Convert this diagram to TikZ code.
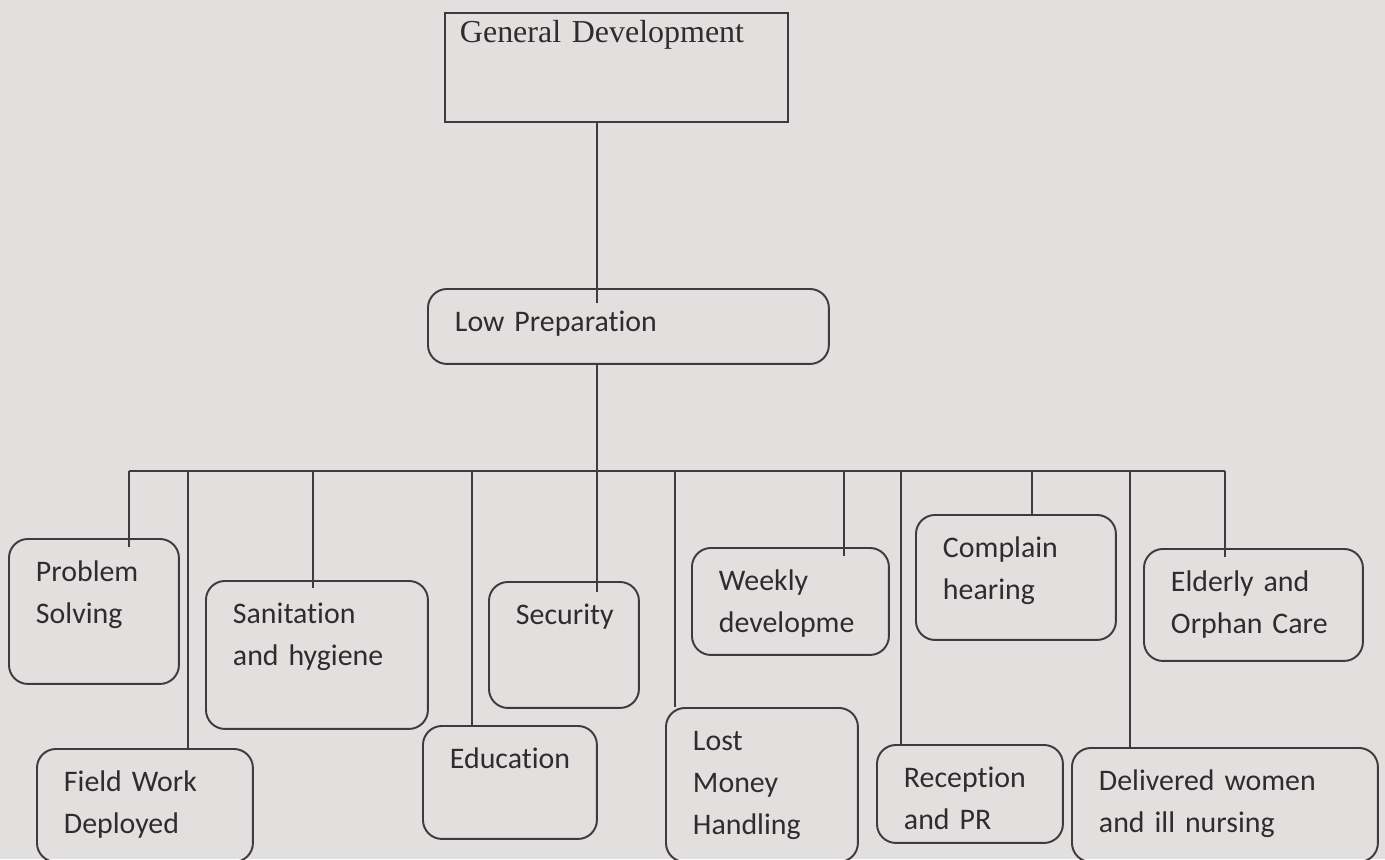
\documentclass[tikz,border=0pt]{standalone}
\usepackage{fontspec}
\newfontfamily\calfont[Ligatures=NoCommon]{Carlito}
\newfontfamily\timesfont{Liberation Serif}
\definecolor{paper}{RGB}{226,224,223}
\definecolor{inkgray}{RGB}{48,43,46}
\definecolor{linegray}{RGB}{64,58,62}

\begin{document}
\begin{tikzpicture}[
  x=0.02cm, y=-0.02cm,
  % Box styles
  topbox/.style={rectangle, draw=linegray, line width=1.1pt, anchor=north west,
    align=left, inner xsep=0.3cm, inner ysep=0pt, text height=0.6cm,
    font=\timesfont\fontsize{18.2pt}{22pt}\selectfont, text=inkgray},
  leaf/.style={rectangle, rounded corners=0.38cm, draw=linegray, line width=1.1pt,
    anchor=north west, align=left, inner xsep=0.54cm, inner ysep=0pt,
    text height=0.86cm, font=\calfont\fontsize{17pt}{23.9pt}\selectfont,
    text=inkgray},
  % Connector style
  link/.style={draw=linegray, line width=1.1pt},
]

% Paper
\fill[paper] (0,0) rectangle (1385,859);
\useasboundingbox (0,0) rectangle (1385,859);

% Bus height and spine position
\def\busy{471}
\coordinate (spine) at (597,0);

% --- Top levels ---
\node[topbox, text width=6.26cm, text depth=1.58cm] (gd) at (444,12)
  {General Development};
\node[leaf, text width=6.94cm, text depth=0.64cm] (lp) at (427,288)
  {Low Preparation};

% --- Upper row of leaves ---
\node[leaf, text width=2.32cm, text depth=2.04cm] (ps) at (8,538)
  {Problem\\Solving};
\node[leaf, text width=3.36cm, text depth=2.10cm] (sh) at (205,580)
  {Sanitation\\and hygiene};
\node[leaf, text width=1.92cm, text depth=1.66cm] (se) at (488,581)
  {Security};
\node[leaf, text width=2.86cm, text depth=1.28cm] (wd) at (691,547)
  {Weekly\\developme};
\node[leaf, text width=2.92cm, text depth=1.64cm] (ch) at (915,514)
  {Complain\\hearing};
\node[leaf, text width=3.30cm, text depth=1.38cm] (eo) at (1143,548)
  {Elderly and\\Orphan Care};

% --- Lower row of leaves ---
\node[leaf, text width=3.24cm, text depth=1.40cm] (fw) at (36,748)
  {Field Work\\Deployed};
\node[leaf, text width=2.40cm, text depth=1.40cm] (ed) at (422,725)
  {Education};
\node[leaf, text width=2.76cm, text depth=2.22cm] (lm) at (665,707)
  {Lost\\Money\\Handling};
\node[leaf, text width=2.64cm, text depth=1.10cm] (rp) at (876,744)
  {Reception\\and PR};
\node[leaf, text width=5.04cm, text depth=1.42cm] (dw) at (1071,747)
  {Delivered women\\and ill nursing};

% Spine through the top levels
\draw[link, shorten >=-0.3cm] (spine |- gd.south) -- (spine |- lp.north);
\draw[link, shorten >=-0.22cm] (spine |- lp.south) -- (spine |- se.north);

% Drops from the bus
\foreach \n/\x/\o in {ps/129/0.18, fw/188/0, sh/313/0.16, ed/472/0, lm/675/0,
    wd/844/0.18, rp/901/0, ch/1032/0, dw/1130/0, eo/1225/0.18} {
  \coordinate (t\n) at (\x,\busy);
  \draw[link, shorten >=-\o cm] (t\n) -- (t\n |- \n.north);
}
\draw[link] (tps) -- (teo);

\end{tikzpicture}
\end{document}
